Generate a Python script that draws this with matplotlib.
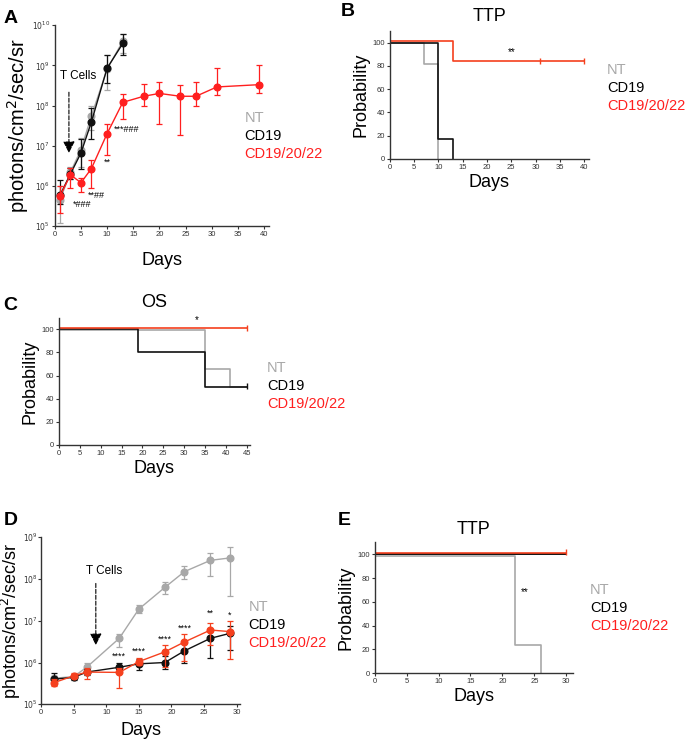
import numpy as np
import matplotlib.pyplot as plt

plt.rcParams['font.family'] = ['Liberation Sans', 'DejaVu Sans']

GRAY = '#a8a8a8'
BLACK = '#111111'
RED = '#ff1f1f'
KM_RED = '#f5401e'

# ---- panel A: bioluminescence ----
a_days_early = [1, 3, 5, 7, 10, 13]
a_nt = [4.5e5, 2.2e6, 8.0e6, 5.5e7, 8.0e8, 4.0e9]
a_nt_lo = [1.2e5, 1.5e6, 3.0e6, 2.5e7, 2.5e8, 2.0e9]
a_nt_hi = [1.0e6, 3.0e6, 1.6e7, 1.0e8, 1.8e9, 6.0e9]
a_cd19 = [5.9e5, 2.0e6, 6.6e6, 3.9e7, 8.5e8, 3.5e9]
a_cd19_lo = [3.5e5, 1.5e6, 2.7e6, 1.5e7, 3.6e8, 1.8e9]
a_cd19_hi = [1.4e6, 2.8e6, 1.5e7, 8.5e7, 1.8e9, 6.0e9]
a_days_red = [1, 3, 5, 7, 10, 13, 17, 20, 24, 27, 31, 39]
a_red = [5.6e5, 1.9e6, 1.2e6, 2.7e6, 2.0e7, 1.2e8, 1.7e8, 2.0e8, 1.7e8, 1.7e8, 2.9e8, 3.3e8]
a_red_lo = [2.1e5, 8.7e5, 7.0e5, 8.7e5, 5.8e6, 4.6e7, 1.0e8, 3.5e7, 1.8e7, 1.0e8, 1.8e8, 2.0e8]
a_red_hi = [1.0e6, 2.8e6, 1.6e6, 4.4e6, 3.4e7, 1.9e8, 3.5e8, 3.8e8, 3.2e8, 3.8e8, 8.4e8, 1.0e9]

# ---- panel D: bioluminescence ----
d_days = [2, 5, 7, 12, 15, 19, 22, 26, 29]
d_nt = [4.2e5, 4.6e5, 7.7e5, 3.8e6, 1.9e7, 6.3e7, 1.5e8, 2.8e8, 3.2e8]
d_nt_lo = [3.6e5, 4.1e5, 6.0e5, 2.4e6, 1.5e7, 4.3e7, 1.0e8, 1.2e8, 4.0e7]
d_nt_hi = [4.8e5, 5.2e5, 1.0e6, 4.8e6, 2.4e7, 8.4e7, 2.0e8, 4.2e8, 5.8e8]
d_cd19 = [4.0e5, 4.4e5, 5.9e5, 7.7e5, 9.3e5, 1.0e6, 1.9e6, 3.8e6, 5.0e6]
d_cd19_lo = [3.2e5, 3.8e5, 5.0e5, 6.2e5, 6.6e5, 7.0e5, 9.5e5, 1.3e6, 2.0e6]
d_cd19_hi = [5.5e5, 5.0e5, 7.0e5, 1.0e6, 1.2e6, 1.4e6, 3.0e6, 6.5e6, 7.5e6]
d_red = [3.3e5, 4.8e5, 5.9e5, 5.8e5, 1.05e6, 1.8e6, 3.1e6, 6.0e6, 5.5e6]
d_red_lo = [2.8e5, 4.2e5, 4.0e5, 2.5e5, 8.5e5, 8.0e5, 1.1e6, 2.6e6, 1.2e6]
d_red_hi = [4.0e5, 5.5e5, 7.5e5, 7.5e5, 1.3e6, 2.6e6, 4.8e6, 9.0e6, 9.8e6]

# ---- Kaplan-Meier curves ----
b_nt_t, b_nt_p = [0, 7, 10], [100, 82, 0]
b_cd19_t, b_cd19_p = [0, 10, 13], [100, 17, 0]
b_red_t, b_red_p = [0, 13, 40], [101, 84, 84]
b_red_cens = [31, 40]

c_nt_t, c_nt_p = [0, 35, 41, 45], [99, 66, 50, 50]
c_cd19_t, c_cd19_p = [0, 19, 35, 45], [100, 80, 50, 50]
c_red_t, c_red_p = [0, 45], [101, 101]

e_nt_t, e_nt_p = [0, 22, 26], [99, 24, 0]
e_cd19_t, e_cd19_p = [0, 30], [100, 100]
e_red_t, e_red_p = [0, 30], [101, 101]

fig = plt.figure(figsize=(6.85, 7.39), dpi=100)


def style(ax):
    for s in ['top', 'right']:
        ax.spines[s].set_visible(False)
    for s in ['left', 'bottom']:
        ax.spines[s].set_color('#333333')
        ax.spines[s].set_linewidth(1.0)
    ax.tick_params(labelsize=5.5, length=2.5, width=0.8, colors='#333333', pad=1)


def legend_text(x, y, dy=0.0245):
    fig.text(x, y, 'NT', color=GRAY, fontsize=10.5, va='center')
    fig.text(x, y - dy, 'CD19', color='black', fontsize=10.5, va='center')
    fig.text(x, y - 2 * dy, 'CD19/20/22', color=RED, fontsize=10.5, va='center')


def bli(ax, x, y, lo, hi, color, z):
    y = np.array(y)
    err = [y - np.array(lo), np.array(hi) - y]
    ax.errorbar(x, y, yerr=err, color=color, marker='o', ms=4.8, lw=1.0,
                elinewidth=0.9, capsize=2, capthick=0.9, zorder=z)


def logfmt(ax, lo, hi):
    ax.set_yscale('log')
    ax.set_ylim(lo, hi)
    ticks = [10.0 ** k for k in range(int(np.log10(lo)), int(np.log10(hi)) + 1)]
    ax.set_yticks(ticks)
    ax.set_yticklabels([r'$10^{%d}$' % int(np.log10(t)) for t in ticks], fontsize=4.5)
    ax.minorticks_off()


# Panel A
axA = fig.add_axes([0.080, 0.694, 0.313, 0.272])
bli(axA, a_days_early, a_nt, a_nt_lo, a_nt_hi, GRAY, 2)
bli(axA, a_days_early, a_cd19, a_cd19_lo, a_cd19_hi, BLACK, 3)
bli(axA, a_days_red, a_red, a_red_lo, a_red_hi, RED, 4)
logfmt(axA, 1e5, 1e10)
axA.set_xlim(0, 41)
axA.set_xticks(range(0, 41, 5))
style(axA)
axA.set_xlabel('Days', fontsize=13, labelpad=10)
axA.set_ylabel('photons/cm$^2$/sec/sr', fontsize=14.5)
axA.yaxis.set_label_coords(-0.11, 0.5)
axA.text(4.5, 10 ** 8.73, 'T Cells', fontsize=8.5, ha='center', va='center')
axA.annotate('', xy=(2.7, 10 ** 6.75), xytext=(2.7, 10 ** 8.4),
             arrowprops=dict(arrowstyle='-|>,head_width=0.35,head_length=0.7',
                             linestyle='--', color='black', lw=0.8))
for x, y, s in [(5.3, 10 ** 5.55, '*###'), (8.0, 10 ** 5.75, '**##'),
                (10.0, 10 ** 6.6, '**'), (13.8, 10 ** 7.4, '***###')]:
    axA.text(x, y, s, fontsize=6.5, ha='center', va='center')
legend_text(0.357, 0.840)

# Panel B
axB = fig.add_axes([0.569, 0.785, 0.291, 0.173])
axB.step(b_nt_t, b_nt_p, where='post', color=GRAY, lw=1.2)
axB.step(b_cd19_t, b_cd19_p, where='post', color=BLACK, lw=1.2)
axB.step(b_red_t, b_red_p, where='post', color=KM_RED, lw=1.2)
axB.plot(b_red_cens, [84, 84], ls='none', marker='|', ms=5, color=KM_RED, mew=1.0)
axB.text(25, 92, '**', fontsize=7, ha='center', va='center')
axB.set_xlim(0, 41)
axB.set_ylim(0, 110)
axB.set_xticks(range(0, 41, 5))
axB.set_yticks(range(0, 101, 20))
style(axB)
axB.set_title('TTP', fontsize=13, pad=7)
axB.set_xlabel('Days', fontsize=13, labelpad=2)
axB.set_ylabel('Probability', fontsize=13, labelpad=2)
legend_text(0.886, 0.905)

# Panel C
axC = fig.add_axes([0.086, 0.398, 0.279, 0.172])
axC.step(c_nt_t, c_nt_p, where='post', color=GRAY, lw=1.2)
axC.step(c_cd19_t, c_cd19_p, where='post', color=BLACK, lw=1.2)
axC.step(c_red_t, c_red_p, where='post', color=KM_RED, lw=1.2)
axC.plot([45], [101], ls='none', marker='|', ms=5, color=KM_RED, mew=1.0)
axC.plot([45], [51], ls='none', marker='|', ms=4, color=BLACK, mew=1.0)
axC.text(33, 108, '*', fontsize=7, ha='center', va='center')
axC.set_xlim(0, 45.8)
axC.set_ylim(0, 110)
axC.set_xticks(range(0, 46, 5))
axC.set_yticks(range(0, 101, 20))
style(axC)
axC.set_title('OS', fontsize=13, pad=8)
axC.set_xlabel('Days', fontsize=13, labelpad=2)
axC.set_ylabel('Probability', fontsize=13, labelpad=2)
legend_text(0.39, 0.502)

# Panel D
axD = fig.add_axes([0.060, 0.047, 0.291, 0.226])
bli(axD, d_days, d_nt, d_nt_lo, d_nt_hi, GRAY, 2)
bli(axD, d_days, d_cd19, d_cd19_lo, d_cd19_hi, BLACK, 3)
bli(axD, d_days, d_red, d_red_lo, d_red_hi, KM_RED, 4)
logfmt(axD, 1e5, 1e9)
axD.set_xlim(0, 30.6)
axD.set_xticks(range(0, 31, 5))
style(axD)
axD.tick_params(axis='y', pad=0.5, length=2)
axD.set_xlabel('Days', fontsize=13, labelpad=4)
axD.set_ylabel('photons/cm$^2$/sec/sr', fontsize=13)
axD.yaxis.set_label_coords(-0.092, 0.5)
axD.text(9.7, 10 ** 8.2, 'T Cells', fontsize=8.5, ha='center', va='center')
axD.annotate('', xy=(8.4, 10 ** 6.35), xytext=(8.4, 10 ** 7.96),
             arrowprops=dict(arrowstyle='-|>,head_width=0.35,head_length=0.7',
                             linestyle='--', color='black', lw=0.8))
for x, y, s in [(12, 10 ** 6.15, '****'), (15, 10 ** 6.27, '****'),
                (19, 10 ** 6.55, '****'), (22, 10 ** 6.83, '****'),
                (26, 10 ** 7.17, '**'), (29, 10 ** 7.13, '*')]:
    axD.text(x, y, s, fontsize=6.5, ha='center', va='center')
legend_text(0.363, 0.179)

# Panel E
axE = fig.add_axes([0.547, 0.089, 0.289, 0.177])
axE.step(e_nt_t, e_nt_p, where='post', color=GRAY, lw=1.2)
axE.step(e_cd19_t, e_cd19_p, where='post', color=BLACK, lw=1.4)
axE.step(e_red_t, e_red_p, where='post', color=KM_RED, lw=1.2)
axE.plot([30], [102], ls='none', marker='|', ms=5, color=KM_RED, mew=1.0)
axE.text(23.5, 68, '**', fontsize=7, ha='center', va='center')
axE.set_xlim(0, 31)
axE.set_ylim(0, 110)
axE.set_xticks(range(0, 31, 5))
axE.set_yticks(range(0, 101, 20))
style(axE)
axE.set_title('TTP', fontsize=13, pad=6)
axE.set_xlabel('Days', fontsize=13, labelpad=2)
axE.set_ylabel('Probability', fontsize=13, labelpad=2)
legend_text(0.861, 0.202)

# panel letters
for x, y, s in [(0.005, 0.975, 'A'), (0.497, 0.985, 'B'), (0.005, 0.587, 'C'),
                (0.005, 0.295, 'D'), (0.493, 0.295, 'E')]:
    fig.text(x, y, s, fontsize=14, fontweight='bold', va='center')

fig.savefig('out.png', dpi=100)
